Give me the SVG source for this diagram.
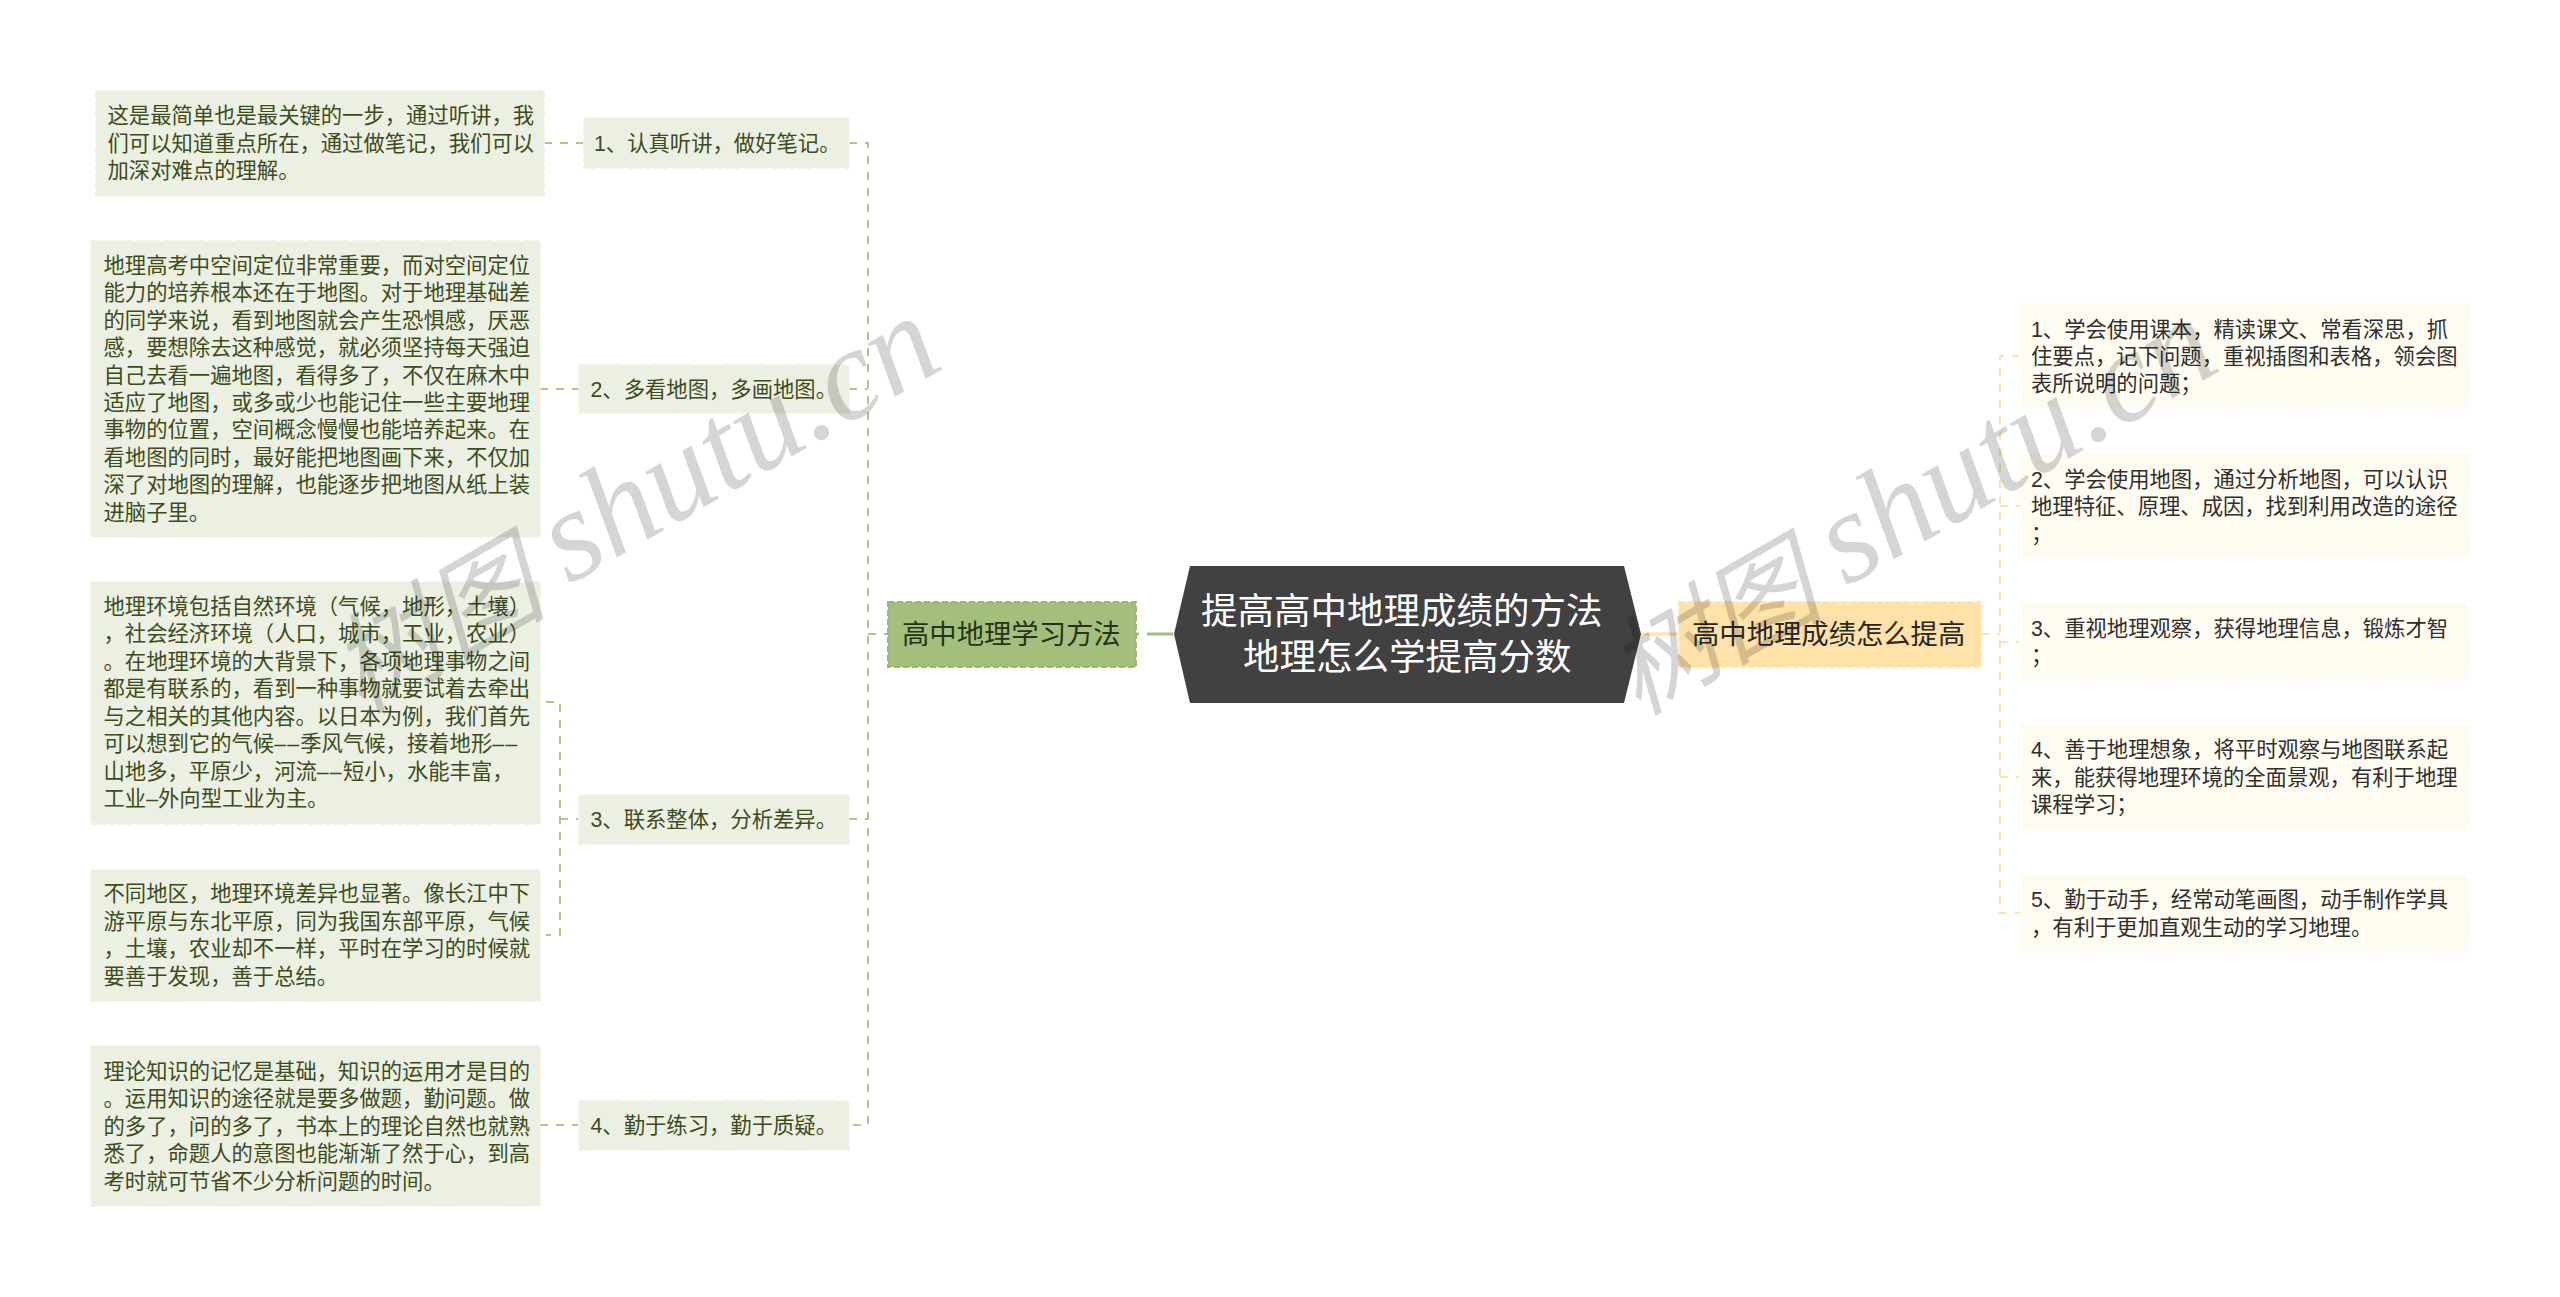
<svg xmlns="http://www.w3.org/2000/svg" width="2560" height="1297" viewBox="0 0 2560 1297">
<style>
text{font-family:"Liberation Sans","Noto Sans CJK SC",sans-serif;font-size:21.33px}
.lf{fill:#EBF0E3;stroke:#EEF2E7;stroke-width:2;stroke-dasharray:6 3}
.rf{fill:#FEFBF0;stroke:#FEFCF4;stroke-width:2;stroke-dasharray:6 3}
.lt{fill:#3D4C1C}
.rt{fill:#2F2F2F}
.ds{letter-spacing:1.2px}
.cl{fill:none;stroke:#B2C48A;stroke-width:2;stroke-dasharray:8 8}
.cr{fill:none;stroke:#FBE3B0;stroke-width:2;stroke-dasharray:8 8}
.wm{font-family:"Liberation Serif","Noto Sans CJK SC",serif;font-style:italic;font-size:130px;fill:#000;fill-opacity:.165}
.wc{font-size:108px}
</style>
<rect width="2560" height="1297" fill="#fff"/>
<g id="connectors">
<path class="cl" d="M544 143H584"/>
<path class="cl" d="M540 389H579"/>
<path class="cl" d="M546 702H560V935H546"/>
<path class="cl" d="M560 819H579"/>
<path class="cl" d="M540 1125H579"/>
<path class="cl" d="M849 143H868V1125H849"/>
<path class="cl" d="M849 389H868"/>
<path class="cl" d="M849 819H868"/>
<path class="cl" d="M868 634H888"/>
<path d="M1136 634H1174" fill="none" stroke="#A4BF7B" stroke-width="3" stroke-dasharray="3 8 26"/>
<path d="M1641 634H1678" fill="none" stroke="#FFE2A8" stroke-width="3"/>
<path class="cr" d="M1981 634H2000"/>
<path class="cr" d="M2020 356H2000V913H2020"/>
<path class="cr" d="M2000 506H2020"/>
<path class="cr" d="M2000 642H2020"/>
<path class="cr" d="M2000 777H2020"/>
</g>
<g id="root">
<polygon points="1190,566 1624,566 1641,634 1624,703 1190,703 1174,634" fill="#414141"/>
<text x="1201" y="624" style="font-size:36.5px" fill="#fff">提高高中地理成绩的方法</text>
<text x="1243" y="670" style="font-size:36.5px" fill="#fff">地理怎么学提高分数</text>
</g>
<g id="branch-left">
<rect x="888" y="602" width="248" height="65" fill="#A4BF7B" stroke="#9BB670" stroke-width="2" stroke-dasharray="6 3"/>
<text x="902" y="644" style="font-size:27.33px" fill="#26331A">高中地理学习方法</text>
</g>
<g id="branch-right">
<rect x="1679" y="602" width="302" height="65" fill="#FFE2A8" stroke="#FFE6B4" stroke-width="2" stroke-dasharray="6 3"/>
<text x="1692" y="644" style="font-size:27.33px" fill="#262626">高中地理成绩怎么提高</text>
</g>
<g id="l1">
<rect class="lf" x="584" y="118" width="265" height="50"/>
<text class="lt" x="594" y="151">1、认真听讲&#xFF0C;做好笔记。</text>
</g>
<g id="l1a">
<rect class="lf" x="96" y="91" width="448" height="105"/>
<text class="lt" x="107.500" y="123">这是最简单也是最关键的一步&#xFF0C;通过听讲&#xFF0C;我</text>
<text class="lt" x="107.500" y="150.500">们可以知道重点所在&#xFF0C;通过做笔记&#xFF0C;我们可以</text>
<text class="lt" x="107.500" y="178">加深对难点的理解。</text>
</g>
<g id="l2">
<rect class="lf" x="579" y="365" width="270" height="48"/>
<text class="lt" x="590.500" y="397">2、多看地图&#xFF0C;多画地图。</text>
</g>
<g id="l2a">
<rect class="lf" x="91" y="241" width="449" height="296"/>
<text class="lt" x="103.500" y="273">地理高考中空间定位非常重要&#xFF0C;而对空间定位</text>
<text class="lt" x="103.500" y="300.400">能力的培养根本还在于地图。对于地理基础差</text>
<text class="lt" x="103.500" y="327.800">的同学来说&#xFF0C;看到地图就会产生恐惧感&#xFF0C;厌恶</text>
<text class="lt" x="103.500" y="355.200">感&#xFF0C;要想除去这种感觉&#xFF0C;就必须坚持每天强迫</text>
<text class="lt" x="103.500" y="382.600">自己去看一遍地图&#xFF0C;看得多了&#xFF0C;不仅在麻木中</text>
<text class="lt" x="103.500" y="410">适应了地图&#xFF0C;或多或少也能记住一些主要地理</text>
<text class="lt" x="103.500" y="437.400">事物的位置&#xFF0C;空间概念慢慢也能培养起来。在</text>
<text class="lt" x="103.500" y="464.800">看地图的同时&#xFF0C;最好能把地图画下来&#xFF0C;不仅加</text>
<text class="lt" x="103.500" y="492.200">深了对地图的理解&#xFF0C;也能逐步把地图从纸上装</text>
<text class="lt" x="103.500" y="519.600">进脑子里。</text>
</g>
<g id="l3">
<rect class="lf" x="579" y="795" width="270" height="49"/>
<text class="lt" x="590.500" y="827">3、联系整体&#xFF0C;分析差异。</text>
</g>
<g id="l3a">
<rect class="lf" x="91" y="582" width="449" height="242"/>
<text class="lt" x="103.500" y="613.500">地理环境包括自然环境&#xFF08;气候&#xFF0C;地形&#xFF0C;土壤&#xFF09;</text>
<text class="lt" x="103.500" y="641">&#xFF0C;社会经济环境&#xFF08;人口&#xFF0C;城市&#xFF0C;工业&#xFF0C;农业&#xFF09;</text>
<text class="lt" x="103.500" y="668.500">。在地理环境的大背景下&#xFF0C;各项地理事物之间</text>
<text class="lt" x="103.500" y="696">都是有联系的&#xFF0C;看到一种事物就要试着去牵出</text>
<text class="lt" x="103.500" y="723.500">与之相关的其他内容。以日本为例&#xFF0C;我们首先</text>
<text class="lt" x="103.500" y="751">可以想到它的气候<tspan class="ds">––</tspan>季风气候&#xFF0C;接着地形<tspan class="ds">––</tspan></text>
<text class="lt" x="103.500" y="778.500">山地多&#xFF0C;平原少&#xFF0C;河流<tspan class="ds">––</tspan>短小&#xFF0C;水能丰富&#xFF0C;</text>
<text class="lt" x="103.500" y="806">工业–外向型工业为主。</text>
</g>
<g id="l3b">
<rect class="lf" x="91" y="870" width="449" height="131"/>
<text class="lt" x="103.500" y="901">不同地区&#xFF0C;地理环境差异也显著。像长江中下</text>
<text class="lt" x="103.500" y="928.500">游平原与东北平原&#xFF0C;同为我国东部平原&#xFF0C;气候</text>
<text class="lt" x="103.500" y="956">&#xFF0C;土壤&#xFF0C;农业却不一样&#xFF0C;平时在学习的时候就</text>
<text class="lt" x="103.500" y="983.500">要善于发现&#xFF0C;善于总结。</text>
</g>
<g id="l4">
<rect class="lf" x="579" y="1101" width="270" height="49"/>
<text class="lt" x="590.500" y="1133">4、勤于练习&#xFF0C;勤于质疑。</text>
</g>
<g id="l4a">
<rect class="lf" x="91" y="1046" width="449" height="160"/>
<text class="lt" x="103.500" y="1078.500">理论知识的记忆是基础&#xFF0C;知识的运用才是目的</text>
<text class="lt" x="103.500" y="1106">。运用知识的途径就是要多做题&#xFF0C;勤问题。做</text>
<text class="lt" x="103.500" y="1133.500">的多了&#xFF0C;问的多了&#xFF0C;书本上的理论自然也就熟</text>
<text class="lt" x="103.500" y="1161">悉了&#xFF0C;命题人的意图也能渐渐了然于心&#xFF0C;到高</text>
<text class="lt" x="103.500" y="1188.500">考时就可节省不少分析问题的时间。</text>
</g>
<g id="r1">
<rect class="rf" x="2020" y="304" width="449" height="104"/>
<text class="rt" x="2031" y="336.500">1、学会使用课本&#xFF0C;精读课文、常看深思&#xFF0C;抓</text>
<text class="rt" x="2031" y="363.900">住要点&#xFF0C;记下问题&#xFF0C;重视插图和表格&#xFF0C;领会图</text>
<text class="rt" x="2031" y="391.300">表所说明的问题&#xFF1B;</text>
</g>
<g id="r2">
<rect class="rf" x="2020" y="454" width="449" height="103"/>
<text class="rt" x="2031" y="486.500">2、学会使用地图&#xFF0C;通过分析地图&#xFF0C;可以认识</text>
<text class="rt" x="2031" y="513.900">地理特征、原理、成因&#xFF0C;找到利用改造的途径</text>
<text class="rt" x="2031" y="541.300">&#xFF1B;</text>
</g>
<g id="r3">
<rect class="rf" x="2020" y="603" width="449" height="77"/>
<text class="rt" x="2031" y="635.500">3、重视地理观察&#xFF0C;获得地理信息&#xFF0C;锻炼才智</text>
<text class="rt" x="2031" y="662.900">&#xFF1B;</text>
</g>
<g id="r4">
<rect class="rf" x="2020" y="725" width="449" height="105"/>
<text class="rt" x="2031" y="757">4、善于地理想象&#xFF0C;将平时观察与地图联系起</text>
<text class="rt" x="2031" y="784.500">来&#xFF0C;能获得地理环境的全面景观&#xFF0C;有利于地理</text>
<text class="rt" x="2031" y="812">课程学习&#xFF1B;</text>
</g>
<g id="r5">
<rect class="rf" x="2020" y="875" width="449" height="77"/>
<text class="rt" x="2031" y="907">5、勤于动手&#xFF0C;经常动笔画图&#xFF0C;动手制作学具</text>
<text class="rt" x="2031" y="934.500">&#xFF0C;有利于更加直观生动的学习地理。</text>
</g>
<g id="watermarks">
<text class="wm" transform="translate(569 585) rotate(-30)"><tspan class="wc" x="-245" y="8">树</tspan><tspan class="wc" x="-136" y="8">图 </tspan><tspan x="0" y="0">shutu.cn</tspan></text>
<text class="wm" transform="translate(1846 587) rotate(-30)"><tspan class="wc" x="-245" y="8">树</tspan><tspan class="wc" x="-136" y="8">图 </tspan><tspan x="0" y="0">shutu.cn</tspan></text>
</g>
</svg>
